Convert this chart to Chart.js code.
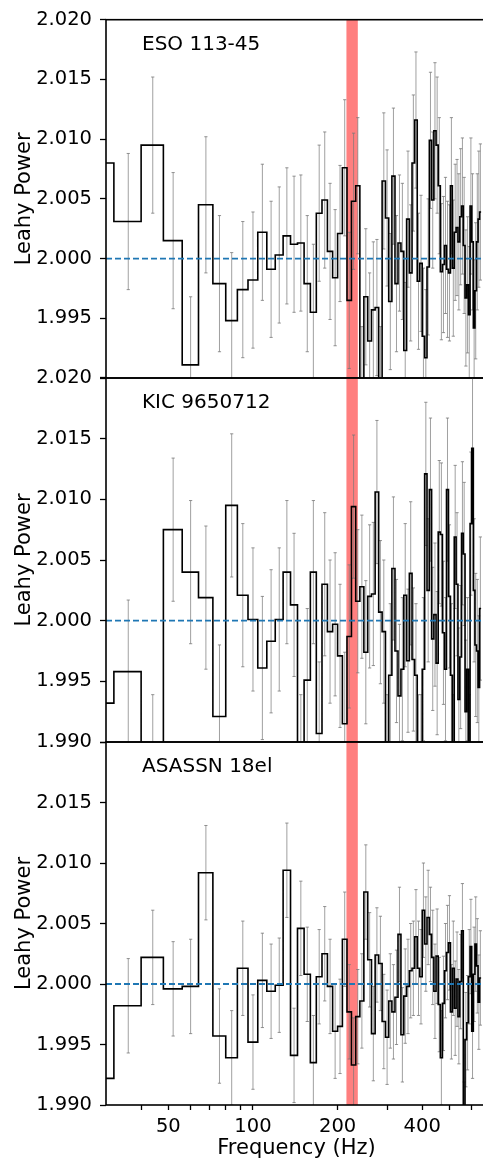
<!DOCTYPE html>
<html>
<head>
<meta charset="utf-8">
<script src="https://cdn.jsdelivr.net/npm/chart.js@4.4.0/dist/chart.umd.min.js"></script>
<style>
html,body{margin:0;padding:0;background:#fff;overflow:hidden;width:483px;height:1161px;}
canvas{position:absolute;left:0;top:0;}
</style>
</head>
<body>
<canvas id="c0" width="492" height="1161"></canvas>
<canvas id="c1" width="492" height="1161"></canvas>
<canvas id="c2" width="492" height="1161"></canvas>
<script>
// ---------------- data ----------------
const panelNames = ['ESO 113-45', 'KIC 9650712', 'ASASSN 18el'];
const xRange = [30, 680];
const binWidth = 8;
const binLo = [24,32,40,48,56,64,72,80,88,96,104,112,120,128,136,144,152,160,168,176,
  184,192,200,208,216,224,232,240,248,256,264,272,280,288,296,304,312,320,328,336,
  344,352,360,368,376,384,392,400,408,416,424,432,440,448,456,464,472,480,488,496,
  504,512,520,528,536,544,552,560,568,576,584,592,600,608,616,624,632,640];
const esoPower = [2.0080,2.0031,2.0095,2.0015,1.9911,2.0045,1.9979,1.9948,1.9974,1.9982,
  2.0022,1.9991,2.0003,2.0019,2.0012,2.0013,1.9979,1.9955,2.0038,2.0049,
  2.0006,1.9984,2.0021,2.0076,1.9965,2.0048,2.0061,1.9886,1.9968,1.9931,
  1.9957,1.9959,1.9886,2.0065,2.0034,1.9964,2.0069,1.9979,2.0013,2.0006,
  1.9923,2.0033,1.9988,2.0080,2.0116,1.9981,1.9996,1.9935,1.9917,1.9993,
  2.0099,2.0049,2.0107,2.0095,2.0061,1.9989,1.9995,2.0011,1.9991,1.9988,
  2.0061,1.9992,2.0022,2.0026,2.0014,2.0035,2.0044,2.0011,1.9967,1.9978,
  1.9953,2.0044,2.0014,1.9942,1.9973,2.0014,2.0033,2.0039];
const kicPower = [1.9932,1.9958,1.9880,2.0075,2.0040,2.0019,1.9921,2.0095,2.0021,2.0001,
  1.9961,1.9983,2.0001,2.0040,2.0013,1.9880,1.9951,2.0040,1.9907,2.0030,
  1.9991,1.9997,1.9971,1.9915,1.9987,2.0094,2.0016,2.0028,1.9974,2.0020,
  2.0022,2.0106,2.0007,1.9991,1.9880,1.9955,2.0043,1.9975,1.9938,1.9960,
  2.0021,1.9967,2.0039,1.9968,1.9955,1.9880,1.9880,1.9960,2.0121,2.0025,
  2.0108,1.9985,2.0005,1.9965,2.0073,2.0071,1.9990,1.9960,2.0108,2.0020,
  1.9955,1.9880,2.0069,2.0030,1.9935,1.9970,2.0072,2.0055,1.9925,1.9960,
  1.9880,2.0080,2.0142,2.0025,1.9980,1.9975,1.9945,2.0010];
const asassnPower = [1.9922,1.9982,2.0022,1.9996,1.9998,2.0092,1.9957,1.9939,2.0013,1.9952,
  2.0003,1.9994,1.9999,2.0094,1.9941,2.0046,2.0008,1.9935,2.0006,2.0025,
  1.9998,1.9961,1.9965,2.0037,1.9977,1.9933,1.9973,1.9986,2.0076,2.0020,
  1.9959,2.0024,2.0017,1.9969,1.9956,1.9986,1.9977,1.9989,2.0041,1.9958,
  1.9990,1.9998,2.0011,2.0013,2.0039,2.0013,2.0006,2.0061,2.0033,2.0055,
  2.0041,2.0022,1.9994,2.0023,1.9983,1.9939,1.9984,2.0011,2.0026,2.0034,
  1.9977,2.0013,1.9980,2.0004,1.9973,2.0002,2.0044,1.9880,1.9954,1.9968,
  2.0006,2.0031,1.9961,2.0008,2.0033,2.0015,1.9985,2.0005];
const esoErr = 0.0057, kicErr = 0.0059, asassnErr = 0.0039;
const bandRange = [215, 236];
const refLevel = 2.000;
const yRange = [1.990, 2.020];
const yTickValues = [1.990, 1.995, 2.000, 2.005, 2.010, 2.015, 2.020];
const yHiddenLabels = [[1.990], [], [2.020]];
const xTickValues = [40, 50, 60, 70, 80, 90, 100, 200, 300, 400, 500, 600];
const xTickLabels = [50, 100, 200, 400];

// ---------------- layout ----------------
const powers = [esoPower, kicPower, asassnPower];
const errs = [esoErr, kicErr, asassnErr];
const panelTop = [15, 378, 742];
const panelBottom = [378, 742, 1105];
const CH = 1161, CW = 492, plotLeft = 106, plotRight = 489;
const FONT = 'DejaVu Sans';

const decor = {
  id: 'decor',
  beforeDatasetsDraw(chart, args, opts) {
    const {ctx, chartArea: a, scales: {x}} = chart;
    ctx.save();
    ctx.fillStyle = 'rgba(255,0,0,0.5)';
    const x0 = x.getPixelForValue(bandRange[0]), x1 = x.getPixelForValue(bandRange[1]);
    ctx.fillRect(x0, a.top, x1 - x0, a.bottom - a.top);
    ctx.restore();
  },
  afterDatasetsDraw(chart, args, opts) {
    const {ctx, chartArea: a} = chart;
    ctx.save();
    ctx.strokeStyle = '#000';
    ctx.lineWidth = 1.6;
    ctx.strokeRect(a.left, a.top, a.right - a.left, a.bottom - a.top);
    ctx.fillStyle = '#000';
    ctx.font = '20px "' + FONT + '"';
    ctx.textBaseline = 'alphabetic';
    ctx.textAlign = 'left';
    ctx.fillText(opts.title, a.left + 36, a.top + 30);
    ctx.restore();
  }
};

function makeChart(idx) {
  const power = powers[idx], err = errs[idx];
  const isBottom = idx === 2;
  const stepPts = [];
  binLo.forEach((lo, i) => {
    stepPts.push({x: lo, y: power[i]});
    stepPts.push({x: lo + binWidth, y: power[i]});
  });
  const errPts = [];
  binLo.forEach((lo, i) => {
    const c = lo + binWidth / 2;
    errPts.push({x: c, y: power[i] - err});
    errPts.push({x: c, y: power[i] + err});
    errPts.push({x: c, y: null});
  });
  const refPts = [{x: xRange[0], y: refLevel}, {x: xRange[1], y: refLevel}];

  new Chart(document.getElementById('c' + idx), {
    type: 'line',
    data: {
      datasets: [
        {data: refPts, borderColor: '#1f77b4', borderWidth: 1.8, borderDash: [6, 3],
         pointRadius: 0, order: 0},
        {data: stepPts, borderColor: '#000', borderWidth: 1.6, pointRadius: 0,
         tension: 0, order: 1},
        {data: errPts, borderColor: 'rgba(120,120,120,0.7)', borderWidth: 1,
         pointStyle: 'line', pointRadius: 1.6, pointBorderWidth: 1,
         pointBorderColor: 'rgba(120,120,120,0.8)', spanGaps: false, order: 2}
      ]
    },
    options: {
      responsive: false,
      animation: false,
      events: [],
      layout: {padding: {left: 0, right: CW - plotRight, top: panelTop[idx],
                         bottom: isBottom ? 0 : CH - panelBottom[idx]}},
      plugins: {legend: {display: false}, tooltip: {enabled: false},
                decor: {title: panelNames[idx]}},
      scales: {
        x: {
          type: 'logarithmic', min: xRange[0], max: xRange[1],
          display: isBottom,
          afterBuildTicks: s => { s.ticks = xTickValues.map(v => ({value: v})); },
          afterFit: s => { if (isBottom) s.height = CH - panelBottom[2]; else s.height = 0; },
          ticks: {
            autoSkip: false, maxRotation: 0, minRotation: 0, color: '#000', padding: 5,
            font: {family: FONT, size: 19.5},
            callback: v => xTickLabels.includes(v) ? String(v) : ''
          },
          grid: {drawOnChartArea: false, drawTicks: true, tickLength: 5,
                 tickColor: '#000', tickWidth: 1.3},
          border: {display: false},
          title: {display: true, text: 'Frequency (Hz)', color: '#000',
                  font: {family: FONT, size: 21}, padding: {top: 0, bottom: 0}}
        },
        y: {
          type: 'linear', min: yRange[0], max: yRange[1],
          afterBuildTicks: s => { s.ticks = yTickValues.map(v => ({value: v})); },
          afterFit: s => { s.width = plotLeft; },
          ticks: {
            autoSkip: false, color: '#000', padding: 8,
            font: {family: FONT, size: 19.5},
            callback: v => yHiddenLabels[idx].some(h => Math.abs(h - v) < 1e-9) ? '' : v.toFixed(3)
          },
          grid: {drawOnChartArea: false, drawTicks: true, tickLength: 6,
                 tickColor: '#000', tickWidth: 1.3},
          border: {display: false},
          title: {display: true, text: 'Leahy Power', color: '#000',
                  font: {family: FONT, size: 21}, padding: {top: 12, bottom: 0}}
        }
      }
    },
    plugins: [decor]
  });
}
[0, 1, 2].forEach(makeChart);
</script>
</body>
</html>
